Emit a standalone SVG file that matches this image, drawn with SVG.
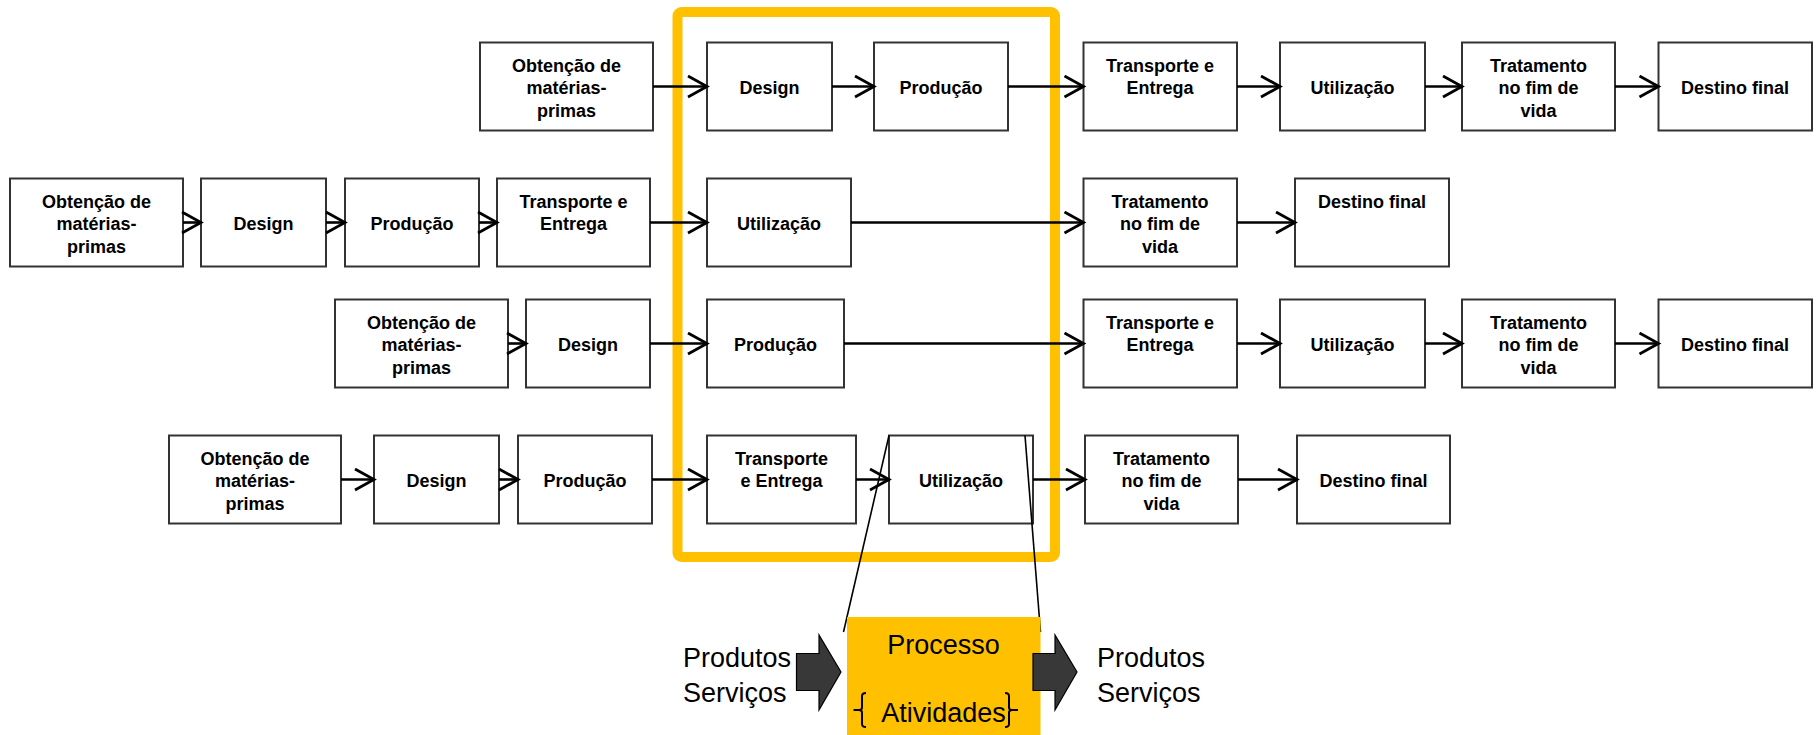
<svg xmlns="http://www.w3.org/2000/svg" width="1817" height="735" viewBox="0 0 1817 735">
<style>
.n rect{fill:#fff;stroke:#333;stroke-width:2}
.n text{font-family:"Liberation Sans",Arial,sans-serif;font-weight:bold;font-size:18px;fill:#000;text-anchor:middle}
.c path{fill:none;stroke:#000;stroke-width:2.6}
.big{font-family:"Liberation Sans",Arial,sans-serif;font-size:27px;fill:#000}
</style>
<defs>
<marker id="ah" markerUnits="userSpaceOnUse" markerWidth="24" markerHeight="26" refX="21" refY="12" orient="auto">
<path d="M2,1.5 L21,12 L2,22.5" fill="none" stroke="#000" stroke-width="2.8"/>
</marker>
</defs>
<rect width="1817" height="735" fill="#fff"/>
<rect id="frame" x="677.5" y="12" width="377.5" height="545" rx="4" fill="none" stroke="#FFC000" stroke-width="10"/>

<g id="r1a" class="n"><rect x="480" y="42.5" width="173" height="88"/><text x="566.5" y="71.5">Obtenção de</text><text x="566.5" y="94">matérias-</text><text x="566.5" y="116.5">primas</text></g>
<g id="r1b" class="n"><rect x="707" y="42.5" width="125" height="88"/><text x="769.5" y="94">Design</text></g>
<g id="r1c" class="n"><rect x="874" y="42.5" width="134" height="88"/><text x="941" y="94">Produção</text></g>
<g id="r1d" class="n"><rect x="1083.5" y="42.5" width="153.5" height="88"/><text x="1160" y="71.5">Transporte e</text><text x="1160" y="94">Entrega</text></g>
<g id="r1e" class="n"><rect x="1280" y="42.5" width="145" height="88"/><text x="1352.5" y="94">Utilização</text></g>
<g id="r1f" class="n"><rect x="1462" y="42.5" width="153" height="88"/><text x="1538.5" y="71.5">Tratamento</text><text x="1538.5" y="94">no fim de</text><text x="1538.5" y="116.5">vida</text></g>
<g id="r1g" class="n"><rect x="1658.5" y="42.5" width="153.5" height="88"/><text x="1735" y="94">Destino final</text></g>

<g id="r2a" class="n"><rect x="10" y="178.5" width="173" height="88"/><text x="96.5" y="207.5">Obtenção de</text><text x="96.5" y="230">matérias-</text><text x="96.5" y="252.5">primas</text></g>
<g id="r2b" class="n"><rect x="201" y="178.5" width="125" height="88"/><text x="263.5" y="230">Design</text></g>
<g id="r2c" class="n"><rect x="345" y="178.5" width="134" height="88"/><text x="412" y="230">Produção</text></g>
<g id="r2d" class="n"><rect x="497" y="178.5" width="153" height="88"/><text x="573.5" y="207.5">Transporte e</text><text x="573.5" y="230">Entrega</text></g>
<g id="r2e" class="n"><rect x="707" y="178.5" width="144" height="88"/><text x="779" y="230">Utilização</text></g>
<g id="r2f" class="n"><rect x="1083.5" y="178.5" width="153.5" height="88"/><text x="1160" y="207.5">Tratamento</text><text x="1160" y="230">no fim de</text><text x="1160" y="252.5">vida</text></g>
<g id="r2g" class="n"><rect x="1295" y="178.5" width="154" height="88"/><text x="1372" y="207.5">Destino final</text></g>

<g id="r3a" class="n"><rect x="335" y="299.5" width="173" height="88"/><text x="421.5" y="328.5">Obtenção de</text><text x="421.5" y="351">matérias-</text><text x="421.5" y="373.5">primas</text></g>
<g id="r3b" class="n"><rect x="526" y="299.5" width="124" height="88"/><text x="588" y="351">Design</text></g>
<g id="r3c" class="n"><rect x="707" y="299.5" width="137" height="88"/><text x="775.5" y="351">Produção</text></g>
<g id="r3d" class="n"><rect x="1083.5" y="299.5" width="153.5" height="88"/><text x="1160" y="328.5">Transporte e</text><text x="1160" y="351">Entrega</text></g>
<g id="r3e" class="n"><rect x="1280" y="299.5" width="145" height="88"/><text x="1352.5" y="351">Utilização</text></g>
<g id="r3f" class="n"><rect x="1462" y="299.5" width="153" height="88"/><text x="1538.5" y="328.5">Tratamento</text><text x="1538.5" y="351">no fim de</text><text x="1538.5" y="373.5">vida</text></g>
<g id="r3g" class="n"><rect x="1658.5" y="299.5" width="153.5" height="88"/><text x="1735" y="351">Destino final</text></g>

<g id="r4a" class="n"><rect x="169" y="435.5" width="172" height="88"/><text x="255" y="464.5">Obtenção de</text><text x="255" y="487">matérias-</text><text x="255" y="509.5">primas</text></g>
<g id="r4b" class="n"><rect x="374" y="435.5" width="125" height="88"/><text x="436.5" y="487">Design</text></g>
<g id="r4c" class="n"><rect x="518" y="435.5" width="134" height="88"/><text x="585" y="487">Produção</text></g>
<g id="r4d" class="n"><rect x="707" y="435.5" width="149" height="88"/><text x="781.5" y="464.5">Transporte</text><text x="781.5" y="487">e Entrega</text></g>
<g id="r4e" class="n"><rect x="889" y="435.5" width="144" height="88"/><text x="961" y="487">Utilização</text></g>
<g id="r4f" class="n"><rect x="1085" y="435.5" width="153" height="88"/><text x="1161.5" y="464.5">Tratamento</text><text x="1161.5" y="487">no fim de</text><text x="1161.5" y="509.5">vida</text></g>
<g id="r4g" class="n"><rect x="1297" y="435.5" width="153" height="88"/><text x="1373.5" y="487">Destino final</text></g>

<g id="connectors" class="c">
<path d="M653,86.5 H707" marker-end="url(#ah)"/>
<path d="M832,86.5 H874" marker-end="url(#ah)"/>
<path d="M1008,86.5 H1083.5" marker-end="url(#ah)"/>
<path d="M1237,86.5 H1280" marker-end="url(#ah)"/>
<path d="M1425,86.5 H1462" marker-end="url(#ah)"/>
<path d="M1615,86.5 H1658.5" marker-end="url(#ah)"/>

<path d="M183,222.5 H201" marker-end="url(#ah)"/>
<path d="M326,222.5 H345" marker-end="url(#ah)"/>
<path d="M479,222.5 H497" marker-end="url(#ah)"/>
<path d="M650,222.5 H707" marker-end="url(#ah)"/>
<path d="M851,222.5 H1083.5" marker-end="url(#ah)"/>
<path d="M1237,222.5 H1295" marker-end="url(#ah)"/>

<path d="M508,343.5 H526" marker-end="url(#ah)"/>
<path d="M650,343.5 H707" marker-end="url(#ah)"/>
<path d="M844,343.5 H1083.5" marker-end="url(#ah)"/>
<path d="M1237,343.5 H1280" marker-end="url(#ah)"/>
<path d="M1425,343.5 H1462" marker-end="url(#ah)"/>
<path d="M1615,343.5 H1658.5" marker-end="url(#ah)"/>

<path d="M341,479.5 H374" marker-end="url(#ah)"/>
<path d="M499,479.5 H518" marker-end="url(#ah)"/>
<path d="M652,479.5 H707" marker-end="url(#ah)"/>
<path d="M856,479.5 H889" marker-end="url(#ah)"/>
<path d="M1033,479.5 H1085" marker-end="url(#ah)"/>
<path d="M1238,479.5 H1297" marker-end="url(#ah)"/>

<path d="M889,435.5 L843.5,632" style="stroke-width:1.6"/>
<path d="M1025,435.5 L1040.5,632" style="stroke-width:1.6"/>
</g>

<g id="processo">
<rect x="847" y="617" width="193.5" height="118" fill="#FFC000"/>
<text class="big" x="943.5" y="654" text-anchor="middle">Processo</text>
<text class="big" x="943.5" y="722" text-anchor="middle">Atividades</text>
<path d="M866,693 Q862,693 862,696 L862,707.5 Q862,710 859,710 L853.5,710 M859,710 Q862,710 862,712.5 L862,724 Q862,727 866,727" fill="none" stroke="#000" stroke-width="2"/>
<path d="M1005,693 Q1009,693 1009,696 L1009,707.5 Q1009,710 1012,710 L1018,710 M1012,710 Q1009,710 1009,712.5 L1009,724 Q1009,727 1005,727" fill="none" stroke="#000" stroke-width="2"/>
</g>

<g id="entrada">
<path d="M796.5,653.5 H819 V635 L841,672 L819,710 V690.5 H796.5 Z" fill="#383838" stroke="#000" stroke-width="1.2"/>
<text class="big" x="683" y="667">Produtos</text>
<text class="big" x="683" y="702">Serviços</text>
</g>
<g id="saida">
<path d="M1033,653.5 H1055 V635 L1077,672 L1055,710 V690.5 H1033 Z" fill="#383838" stroke="#000" stroke-width="1.2"/>
<text class="big" x="1097" y="667">Produtos</text>
<text class="big" x="1097" y="702">Serviços</text>
</g>
</svg>
